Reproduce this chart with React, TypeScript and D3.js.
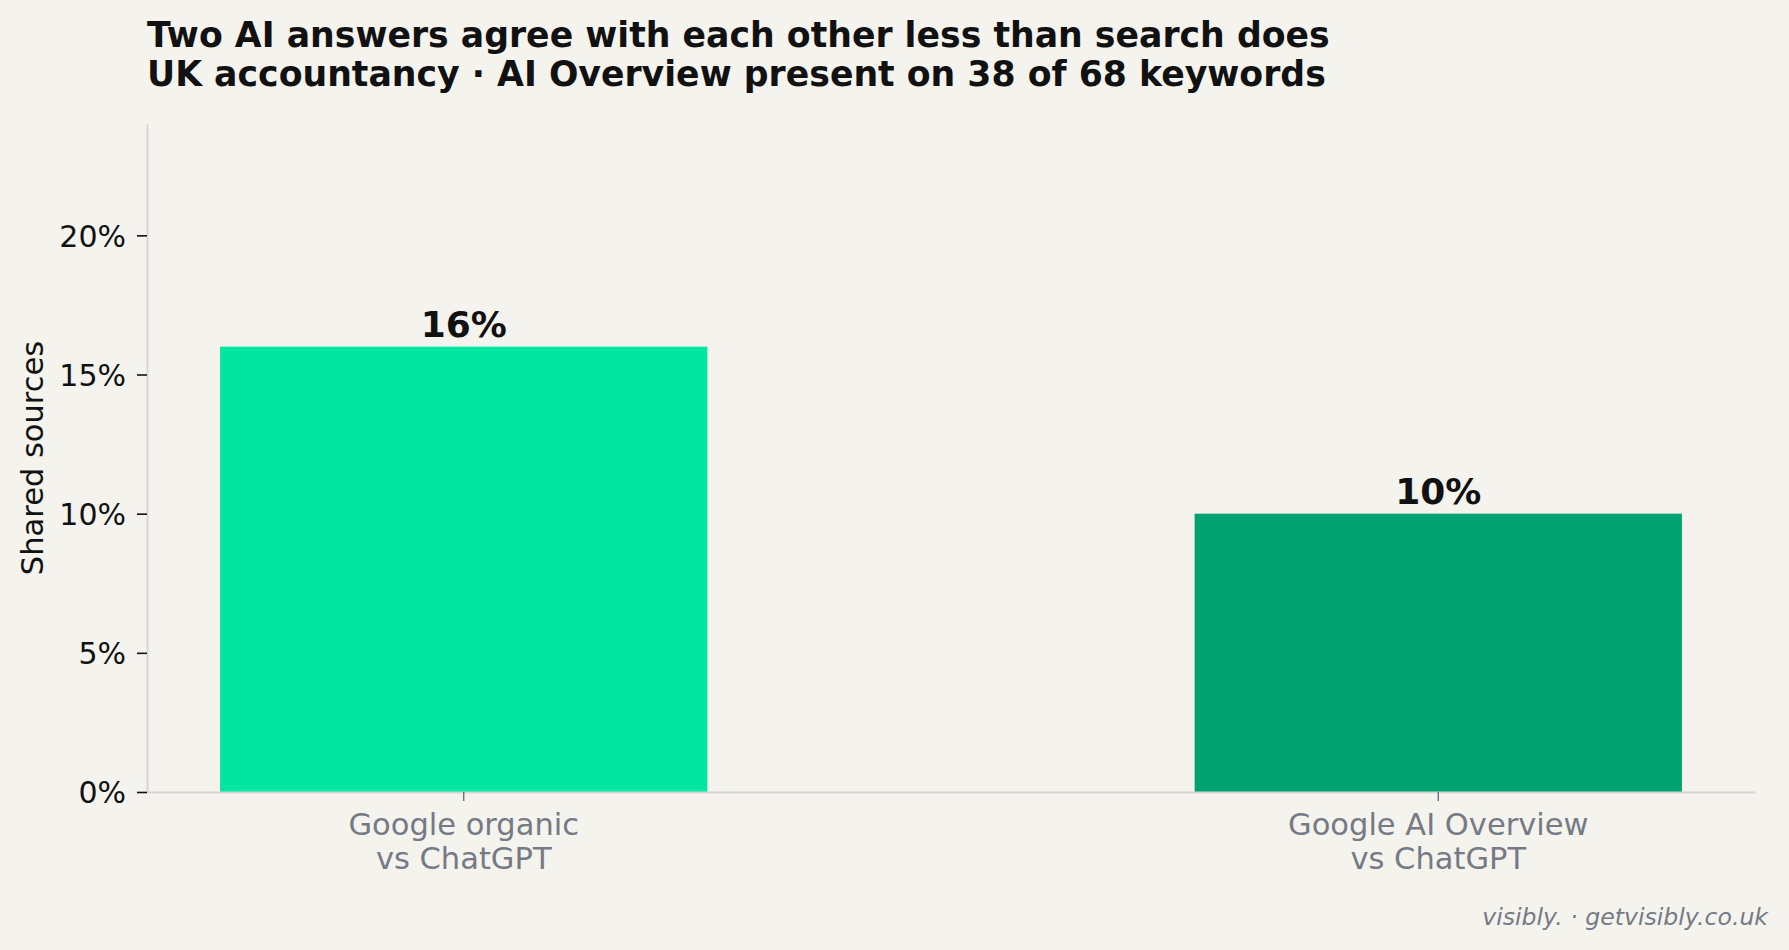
import { useEffect, useRef } from "react";
import * as d3 from "d3";

// Chart data
const categories = ["Google organic\nvs ChatGPT", "Google AI Overview\nvs ChatGPT"];
const sharedPct = [16, 10];
const barColors = ["#00E6A1", "#00A36F"];
const yTicks = [0, 5, 10, 15, 20];
const titleLines = [
    "Two AI answers agree with each other less than search does",
    "UK accountancy · AI Overview present on 38 of 68 keywords",
];
const yLabel = "Shared sources";
const credit = "visibly. · getvisibly.co.uk";

export default function App() {
    const svgRef = useRef<SVGSVGElement | null>(null);

    useEffect(() => {
        if (!svgRef.current) return;
        d3.select(svgRef.current).selectAll("*").remove();

        const width = 1789;
        const height = 950;
        const margin = { top: 124, right: 34, bottom: 158, left: 147 };
        const font = "'DejaVu Sans', sans-serif";

        const svg = d3
            .select(svgRef.current)
            .attr("width", width)
            .attr("height", height)
            .style("font-family", font);

        svg.append("rect")
            .attr("width", width)
            .attr("height", height)
            .attr("fill", "#F4F3EE");

        const x = d3
            .scaleBand()
            .domain(categories)
            .range([margin.left, width - margin.right])
            .paddingInner(0.5)
            .paddingOuter(0.075);

        const y = d3
            .scaleLinear()
            .domain([0, 24])
            .range([height - margin.bottom, margin.top]);

        // Bars
        svg.selectAll(".bar")
            .data(categories)
            .enter()
            .append("rect")
            .attr("class", "bar")
            .attr("x", (d) => x(d) || 0)
            .attr("y", (d, i) => y(sharedPct[i]))
            .attr("width", x.bandwidth())
            .attr("height", (d, i) => y(0) - y(sharedPct[i]))
            .attr("fill", (d, i) => barColors[i]);

        // Y axis
        const yAxis = svg
            .append("g")
            .attr("transform", `translate(${margin.left},0)`)
            .call(
                d3
                    .axisLeft(y)
                    .tickValues(yTicks)
                    .tickFormat((d) => `${d}%`)
                    .tickSize(10)
                    .tickSizeOuter(0)
                    .tickPadding(11)
            );
        yAxis.select(".domain").attr("stroke", "#D6D6D4").attr("stroke-width", 2);
        yAxis.selectAll(".tick line").attr("stroke", "#111").attr("stroke-width", 1.6);
        yAxis.selectAll(".tick text")
            .attr("font-size", "30px")
            .attr("font-family", font)
            .attr("dy", "0.36em")
            .attr("fill", "#111");

        // X axis
        const xAxis = svg
            .append("g")
            .attr("transform", `translate(0,${y(0)})`)
            .call(d3.axisBottom(x).tickSize(9).tickSizeOuter(0).tickFormat(() => ""));
        xAxis.select(".domain").attr("stroke", "#D6D6D4").attr("stroke-width", 2);
        xAxis.selectAll(".tick line").attr("stroke", "#6B7079").attr("stroke-width", 1.4);

        // Multi-line x tick labels
        categories.forEach((c) => {
            const t = svg
                .append("text")
                .attr("text-anchor", "middle")
                .attr("font-size", "30.5px")
                .attr("fill", "#767A84");
            c.split("\n").forEach((line, j) => {
                t.append("tspan")
                    .attr("x", (x(c) || 0) + x.bandwidth() / 2)
                    .attr("y", y(0) + 43 + j * 34)
                    .text(line);
            });
        });

        // Value labels
        svg.selectAll(".label")
            .data(categories)
            .enter()
            .append("text")
            .attr("class", "label")
            .attr("x", (d) => (x(d) || 0) + x.bandwidth() / 2)
            .attr("y", (d, i) => y(sharedPct[i]) - 10)
            .attr("text-anchor", "middle")
            .attr("font-size", "36px")
            .attr("font-weight", "bold")
            .attr("fill", "#111")
            .text((d, i) => `${sharedPct[i]}%`);

        // Y label
        svg.append("text")
            .attr("transform", `translate(43,${(y(0) + margin.top) / 2}) rotate(-90)`)
            .attr("text-anchor", "middle")
            .attr("font-size", "30.5px")
            .attr("fill", "#111")
            .text(yLabel);

        // Title
        svg.append("text")
            .attr("font-size", "34.7px")
            .attr("font-weight", "bold")
            .attr("fill", "#111")
            .selectAll("tspan")
            .data(titleLines)
            .enter()
            .append("tspan")
            .attr("x", margin.left)
            .attr("y", (d, i) => 46.5 + i * 39.5)
            .text((d) => d);

        // Credit
        svg.append("text")
            .attr("x", 1768)
            .attr("y", 925)
            .attr("text-anchor", "end")
            .attr("font-size", "23.6px")
            .attr("font-style", "italic")
            .attr("fill", "#767A84")
            .text(credit);
    }, []);

    return (
        <div style={{ position: "fixed", left: 0, top: 0, width: 1789, height: 950 }}>
            <svg ref={svgRef} style={{ display: "block" }} />
        </div>
    );
}
